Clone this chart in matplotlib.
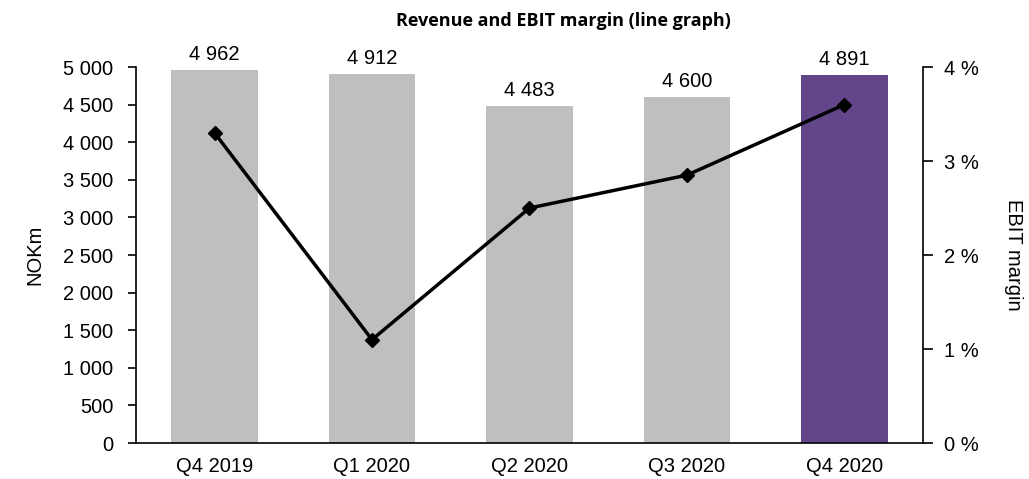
import numpy as np
import matplotlib.pyplot as plt
from matplotlib.ticker import FuncFormatter

# data
quarters = ['Q4 2019', 'Q1 2020', 'Q2 2020', 'Q3 2020', 'Q4 2020']
revenue = [4962, 4912, 4483, 4600, 4891]
ebit_margin = [3.3, 1.1, 2.5, 2.85, 3.6]
bar_colors = ['#bfbfbf', '#bfbfbf', '#bfbfbf', '#bfbfbf', '#634689']

plt.rcParams['font.family'] = ['Liberation Sans', 'DejaVu Sans']
fs = 14.5

fig = plt.figure(figsize=(10.29, 4.79), dpi=100)
ax = fig.add_axes([0.132, 0.075, 0.765, 0.785])
x = np.arange(len(quarters))

bars = ax.bar(x, revenue, width=0.55, color=bar_colors, zorder=2)
for xi, v in zip(x, revenue):
    ax.text(xi, v + 80, f'{v:,}'.replace(',', ' '), ha='center', va='bottom', fontsize=fs)

ax.set_xlim(-0.5, len(quarters) - 0.5)
ax.set_ylim(0, 5000)
ax.set_yticks(np.arange(0, 5001, 500))
ax.yaxis.set_major_formatter(FuncFormatter(lambda v, p: f'{int(v):,}'.replace(',', ' ')))
ax.set_xticks(x)
ax.set_xticklabels(quarters)
ax.tick_params(axis='x', length=0, labelsize=fs, pad=10)
ax.tick_params(axis='y', labelsize=fs, length=6, width=1.2, pad=10)
ax.set_ylabel('NOKm', fontsize=fs, labelpad=14)
for s in ['top', 'right']:
    ax.spines[s].set_visible(False)
ax.spines['left'].set_linewidth(1.2)
ax.spines['bottom'].set_linewidth(1.2)

ax2 = ax.twinx()
ax2.plot(x, ebit_margin, color='black', lw=2.5, marker='D', markersize=7, zorder=3)
ax2.set_ylim(0, 4)
ax2.set_yticks(np.arange(0, 5, 1))
ax2.yaxis.set_major_formatter(FuncFormatter(lambda v, p: f'{int(v)} %'))
ax2.tick_params(axis='y', labelsize=fs, length=7, width=1.2, pad=8)
ax2.set_ylabel('EBIT margin', fontsize=fs, rotation=270, labelpad=32)
for s in ['top', 'left', 'bottom']:
    ax2.spines[s].set_visible(False)
ax2.spines['right'].set_linewidth(1.2)

fig.suptitle('Revenue and EBIT margin (line graph)', fontsize=13, fontweight='bold',
             family=['Open Sans', 'DejaVu Sans'], x=0.548, y=0.975)

fig.savefig('out.png', dpi=100)
